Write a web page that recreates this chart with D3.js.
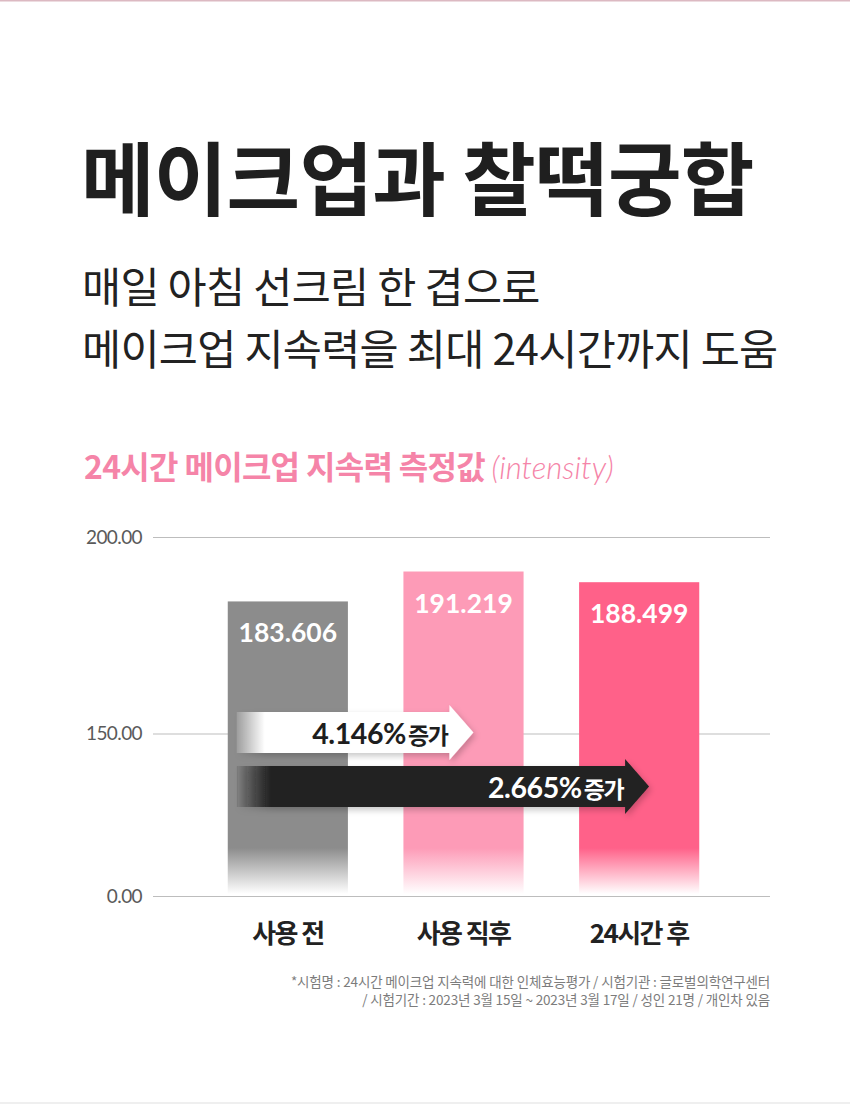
<!DOCTYPE html>
<html>
<head>
<meta charset="utf-8">
<script src="https://cdn.jsdelivr.net/npm/d3@7"></script>
<style>
  html, body { margin: 0; padding: 0; background: #fff; }
  svg { display: block; }
</style>
</head>
<body>
<div id="chart"></div>
<script>
// chart data
const categories = ["사용 전", "사용 직후", "24시간 후"];
const values = [183.606, 191.219, 188.499];
const valueLabels = ["183.606", "191.219", "188.499"];
const yTicks = [0, 150, 200];
const barColors = ["#8c8c8c", "#fd9bb7", "#ff6189"];

const titleText = "메이크업과 찰떡궁합";
const subLines = ["매일 아침 선크림 한 겹으로", "메이크업 지속력을 최대 24시간까지 도움"];
const noteLines = [
    "*시험명 : 24시간 메이크업 지속력에 대한 인체효능평가 / 시험기관 : 글로벌의학연구센터",
    "/ 시험기간 : 2023년 3월 15일 ~ 2023년 3월 17일 / 성인 21명 / 개인차 있음"
];

const W = 850, H = 1104;
const kr = "'Noto Sans CJK KR', 'Noto Sans', sans-serif";
const num = "Lato, 'Noto Sans CJK KR', sans-serif";

const svg = d3.select("#chart")
    .append("svg")
    .attr("width", W)
    .attr("height", H);

const defs = svg.append("defs");

// thin borders top / bottom
svg.append("rect").attr("x", 0).attr("y", 0).attr("width", W).attr("height", 1.5).attr("fill", "#dcb9c2");
svg.append("rect").attr("x", 0).attr("y", H - 2).attr("width", W).attr("height", 2).attr("fill", "#efefef");

// headings
svg.append("text")
    .attr("x", 81).attr("y", 209)
    .attr("font-family", kr).attr("font-weight", 700)
    .attr("font-size", 80).attr("fill", "#1f1f1f")
    .attr("letter-spacing", -0.8)
    .text(titleText);

svg.selectAll(".sub")
    .data(subLines)
    .join("text")
    .attr("class", "sub")
    .attr("x", 82)
    .attr("y", (d, i) => 303 + i * 62)
    .attr("font-family", kr).attr("font-weight", 400)
    .attr("font-size", 42.5).attr("fill", "#222")
    .attr("letter-spacing", -0.7)
    .text(d => d);

const sec = svg.append("text")
    .attr("x", 84).attr("y", 479)
    .attr("fill", "#f584a8");
sec.append("tspan")
    .attr("font-family", kr).attr("font-weight", 700)
    .attr("font-size", 32).attr("letter-spacing", -0.7)
    .text("24시간 메이크업 지속력 측정값 ");
sec.append("tspan")
    .attr("font-family", num).attr("font-weight", 300).attr("font-style", "italic")
    .attr("font-size", 31)
    .text("(intensity)");

// scales (broken axis: 150 -> 200 is stretched)
const x = d3.scaleBand()
    .domain(categories)
    .range([200, 727])
    .paddingInner(0.316)
    .paddingOuter(0.158);

const y = d3.scaleLinear()
    .domain([0, 150, 200])
    .range([896, 733.5, 537]);

const gridLeft = 153, gridRight = 770;

const yAxis = svg.append("g")
    .attr("transform", `translate(${gridLeft},0)`)
    .call(d3.axisLeft(y)
        .tickValues(yTicks)
        .tickSize(-(gridRight - gridLeft))
        .tickPadding(11)
        .tickFormat(d3.format(".2f")));
yAxis.select(".domain").remove();
yAxis.selectAll(".tick line").attr("stroke", "#bdbdbd").attr("stroke-width", 1.2);
yAxis.selectAll(".tick text")
    .attr("font-family", num).attr("font-size", 19)
    .attr("letter-spacing", -0.6)
    .attr("fill", "#5a5a5a");

// bar fade gradients
const y0 = y(0);
barColors.forEach((c, i) => {
    const g = defs.append("linearGradient")
        .attr("id", "fade" + i)
        .attr("gradientUnits", "userSpaceOnUse")
        .attr("x1", 0).attr("x2", 0)
        .attr("y1", y0 - 48).attr("y2", y0 - 2);
    g.append("stop").attr("offset", 0).attr("stop-color", c).attr("stop-opacity", 1);
    g.append("stop").attr("offset", 1).attr("stop-color", c).attr("stop-opacity", 0);
});

svg.append("g")
    .selectAll("rect")
    .data(values)
    .join("rect")
    .attr("x", (d, i) => x(categories[i]))
    .attr("y", d => y(d))
    .attr("width", x.bandwidth())
    .attr("height", d => y0 - 2 - y(d))
    .attr("fill", (d, i) => `url(#fade${i})`);

svg.append("g")
    .selectAll("text")
    .data(values)
    .join("text")
    .attr("x", (d, i) => x(categories[i]) + x.bandwidth() / 2)
    .attr("y", d => y(d) + 41)
    .attr("text-anchor", "middle")
    .attr("font-family", num).attr("font-weight", 700)
    .attr("font-size", 26.5).attr("fill", "#fff")
    .text((d, i) => valueLabels[i]);

// x labels
svg.append("g")
    .selectAll("text")
    .data(categories)
    .join("text")
    .attr("x", d => x(d) + x.bandwidth() / 2)
    .attr("y", 943)
    .attr("text-anchor", "middle")
    .attr("font-family", kr).attr("font-weight", 700)
    .attr("font-size", 26).attr("letter-spacing", -1.6)
    .attr("fill", "#222")
    .text(d => d);

// increase arrows
const shadow = defs.append("filter").attr("id", "shadow")
    .attr("x", "-10%").attr("y", "-40%").attr("width", "130%").attr("height", "190%");
shadow.append("feDropShadow")
    .attr("dx", 2).attr("dy", 3).attr("stdDeviation", 3)
    .attr("flood-color", "#000").attr("flood-opacity", 0.22);

function arrowPath(x0, tip, cy) {
    const bh = 20.5, hh = 27.5, hl = 24;
    const p = d3.path();
    p.moveTo(x0, cy - bh);
    p.lineTo(tip - hl, cy - bh);
    p.lineTo(tip - hl, cy - hh);
    p.lineTo(tip, cy);
    p.lineTo(tip - hl, cy + hh);
    p.lineTo(tip - hl, cy + bh);
    p.lineTo(x0, cy + bh);
    p.closePath();
    return p.toString();
}

const base = values[0];
const pct = d3.format(".3f");
const arrows = [
    { to: 1, color: "#ffffff", text: "#1e1e1e", cy: y(150) - 1, startOp: 0.15, fade: 28 },
    { to: 2, color: "#222222", text: "#ffffff", cy: y(150) + 53, startOp: 0.1, fade: 34 }
];

arrows.forEach((a, i) => {
    const x0 = x(categories[0]) + 9;
    const tip = x(categories[a.to]) + 70;
    const g = defs.append("linearGradient")
        .attr("id", "arr" + i)
        .attr("gradientUnits", "userSpaceOnUse")
        .attr("x1", x0).attr("x2", x0 + a.fade)
        .attr("y1", 0).attr("y2", 0);
    g.append("stop").attr("offset", 0).attr("stop-color", a.color).attr("stop-opacity", a.startOp);
    g.append("stop").attr("offset", 1).attr("stop-color", a.color).attr("stop-opacity", 1);

    svg.append("path")
        .attr("d", arrowPath(x0, tip, a.cy))
        .attr("fill", `url(#arr${i})`)
        .attr("filter", "url(#shadow)");

    const t = svg.append("text")
        .attr("x", tip - 26)
        .attr("y", a.cy + 11)
        .attr("text-anchor", "end")
        .attr("fill", a.text);
    t.append("tspan")
        .attr("font-family", num).attr("font-weight", 700)
        .attr("font-size", 28.5).attr("letter-spacing", -0.4)
        .text(pct((values[a.to] - base) / base * 100) + "%");
    t.append("tspan")
        .attr("dx", 2)
        .attr("font-family", kr).attr("font-weight", 700)
        .attr("font-size", 23).attr("letter-spacing", -1.5)
        .text("증가");
});

// footnote
svg.append("g")
    .selectAll("text")
    .data(noteLines)
    .join("text")
    .attr("x", 770)
    .attr("y", (d, i) => 987 + i * 18)
    .attr("text-anchor", "end")
    .attr("font-family", kr).attr("font-size", 13.5)
    .attr("letter-spacing", -0.15)
    .attr("fill", "#7c7c7c")
    .text(d => d);
</script>
</body>
</html>
